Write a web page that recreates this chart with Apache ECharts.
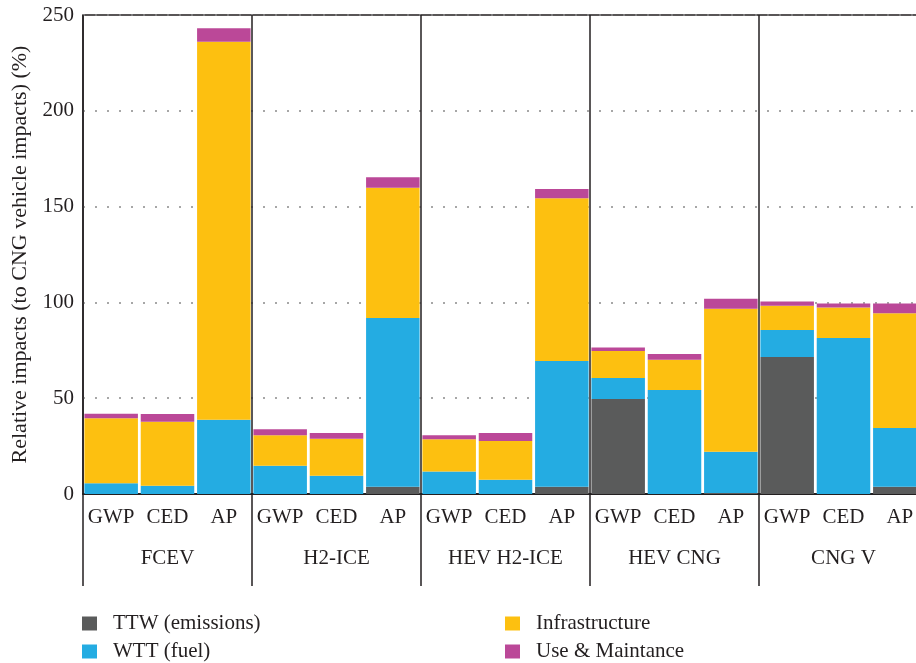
<!DOCTYPE html>
<html>
<head>
<meta charset="utf-8">
<script src="https://cdn.jsdelivr.net/npm/echarts@6/dist/echarts.min.js"></script>
<style>
  html, body { margin: 0; padding: 0; background: #fff; }
  #chart { width: 916px; height: 663px; }
</style>
</head>
<body>
<div id="chart"></div>
<script>
const metrics = ['GWP','CED','AP','GWP','CED','AP','GWP','CED','AP','GWP','CED','AP','GWP','CED','AP'];
const groups = ['FCEV','H2-ICE','HEV H2-ICE','HEV CNG','CNG V'];
const yTicks = [0, 50, 100, 150, 200, 250];

const ttw   = [0, 0, 0,      0, 0, 3.8,     0, 0, 3.8,     49.6, 0, 0.5,   71.5, 0, 3.8];
const wtt   = [5.6, 4.3, 38.7, 14.7, 9.5, 88,  11.8, 7.4, 65.6, 11, 54.3, 21.5, 14.1, 81.4, 30.7];
const infra = [34, 33.4, 197.4, 16, 19.3, 68.1, 16.8, 20.2, 84.9, 14, 15.8, 74.7, 12.7, 15.9, 59.9];
const useM  = [2.3, 4.1, 7,   3.1, 3.1, 5.4,  2.1, 4.3, 4.9,   1.8, 3, 5.2,   2.2, 2.1, 5];

const FONT = "'Liberation Serif', 'DejaVu Serif', serif";
const TXT = '#231f20';
const colors = { ttw: '#5a5b5b', wtt: '#24ace2', infra: '#fdc010', um: '#bb4898' };

const chart = echarts.init(document.getElementById('chart'), null, { renderer: 'canvas' });

function bar(name, data, color) {
  return {
    name, type: 'bar', stack: 'total', data,
    xAxisIndex: 0, yAxisIndex: 0,
    barCategoryGap: '5%',
    itemStyle: { color },
    emphasis: { disabled: true }
  };
}

chart.setOption({
  animation: false,
  textStyle: { fontFamily: FONT, color: TXT },
  grid: {
    left: 83, right: -12, top: 15, bottom: 169,
    outerBoundsMode: 'none', containLabel: false,
    show: true, borderColor: TXT, borderWidth: 1.5, backgroundColor: 'transparent'
  },
  legend: [
    {
      data: ['TTW (emissions)', 'WTT (fuel)'],
      orient: 'vertical', left: 82, top: 613, padding: 0,
      itemWidth: 15, itemHeight: 14, itemGap: 7, icon: 'rect',
      textStyle: { fontFamily: FONT, fontSize: 21, color: TXT, padding: [0, 0, 0, 11] }
    },
    {
      data: ['Infrastructure', 'Use & Maintance'],
      orient: 'vertical', left: 505, top: 613, padding: 0,
      itemWidth: 15, itemHeight: 14, itemGap: 7, icon: 'rect',
      textStyle: { fontFamily: FONT, fontSize: 21, color: TXT, padding: [0, 0, 0, 11] }
    }
  ],
  xAxis: [
    {
      type: 'category', data: metrics, position: 'bottom',
      axisLine: { show: true, onZero: false, lineStyle: { color: TXT, width: 2 } },
      axisTick: { show: false },
      axisLabel: { interval: 0, margin: 13, fontFamily: FONT, fontSize: 21, color: TXT },
      splitLine: { show: false }
    },
    {
      type: 'category', data: groups, position: 'bottom',
      axisLine: { show: false },
      axisTick: { show: true, length: 92, interval: 0, lineStyle: { color: TXT, width: 1.5 } },
      axisLabel: { interval: 0, margin: 54, fontFamily: FONT, fontSize: 21, color: TXT },
      splitLine: { show: true, interval: 0, lineStyle: { color: TXT, width: 1.5, type: 'solid' } }
    }
  ],
  yAxis: {
    type: 'value', min: yTicks[0], max: yTicks[yTicks.length - 1], interval: 50,
    name: 'Relative impacts (to CNG vehicle impacts) (%)',
    nameLocation: 'middle', nameGap: 52, nameRotate: 90,
    nameTextStyle: { fontFamily: FONT, fontSize: 22, color: TXT },
    axisLine: { show: false },
    axisTick: { show: false },
    axisLabel: { margin: 9, fontFamily: FONT, fontSize: 21, color: TXT },
    splitLine: { show: true, lineStyle: { color: '#8a8a8a', width: 1.5, type: [2, 10] } }
  },
  series: [
    bar('TTW (emissions)', ttw, colors.ttw),
    bar('WTT (fuel)', wtt, colors.wtt),
    bar('Infrastructure', infra, colors.infra),
    bar('Use & Maintance', useM, colors.um)
  ]
});
</script>
</body>
</html>
